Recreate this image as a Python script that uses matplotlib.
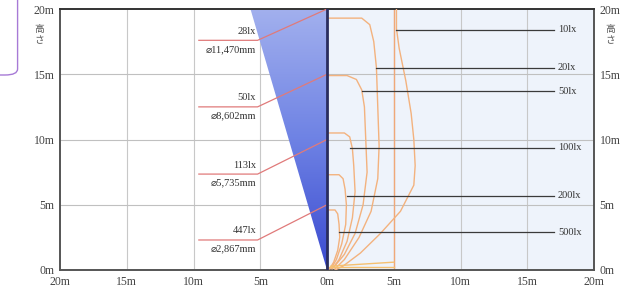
import numpy as np
import matplotlib
matplotlib.use("Agg")
import matplotlib.pyplot as plt
from matplotlib.patches import Polygon, FancyBboxPatch, Rectangle
from matplotlib.colors import LinearSegmentedColormap

# ---- data ----
heights = [5, 10, 15, 20]
center_lux = ["447lx", "113lx", "50lx", "28lx"]
beam_diam = ["⌀2,867mm", "⌀5,735mm", "⌀8,602mm", "⌀11,470mm"]
label_y = [2.3, 7.35, 12.5, 17.6]          # underline heights of left labels
beam_half_width_top = 5.735                 # half of 11,470mm at 20m

x_ticks = [-20, -15, -10, -5, 0, 5, 10, 15, 20]
x_tick_labels = ["20m", "15m", "10m", "5m", "0m", "5m", "10m", "15m", "20m"]
y_ticks = [0, 5, 10, 15, 20]
y_tick_labels = ["0m", "5m", "10m", "15m", "20m"]

iso_labels = ["10lx", "20lx", "50lx", "100lx", "200lx", "500lx"]
iso_label_y = [18.4, 15.5, 13.7, 9.35, 5.7, 2.9]
iso_label_x0 = [5.2, 3.7, 2.6, 1.7, 1.5, 0.9]

curve_10_x = [5.2, 5.2, 5.4, 5.9, 6.3, 6.5, 6.6, 6.5, 5.5, 4.0, 2.5, 1.2, 0.6]
curve_10_y = [20, 18.5, 17, 14.5, 12, 10, 8, 6.5, 4.5, 2.8, 1.3, 0.3, 0.0]
curve_20_x = [0, 2.6, 3.2, 3.5, 3.7, 3.8, 3.9, 3.8, 3.3, 2.4, 1.3, 0.6]
curve_20_y = [19.3, 19.3, 18.8, 17.5, 15.5, 12.5, 9.5, 7.0, 4.5, 2.5, 0.8, 0.1]
curve_50_x = [0, 1.5, 2.2, 2.6, 2.8, 2.9, 3.0, 2.7, 2.1, 1.3, 0.5]
curve_50_y = [14.9, 14.9, 14.6, 13.8, 12.5, 10, 7.5, 5.0, 2.8, 1.2, 0.2]
curve_100_x = [0, 1.3, 1.7, 1.9, 2.0, 2.1, 1.9, 1.5, 0.9, 0.4]
curve_100_y = [10.5, 10.5, 10.2, 9.3, 8.0, 6.0, 4.0, 2.2, 0.8, 0.1]
curve_200_x = [0, 0.9, 1.2, 1.35, 1.45, 1.4, 1.1, 0.7, 0.3]
curve_200_y = [7.3, 7.3, 7.0, 6.2, 5.0, 3.5, 2.0, 0.8, 0.1]
curve_500_x = [0, 0.6, 0.8, 0.9, 0.95, 0.8, 0.5, 0.2, 0]
curve_500_y = [4.6, 4.6, 4.3, 3.5, 2.5, 1.5, 0.6, 0.1, 0]
curves = [(curve_10_x, curve_10_y), (curve_20_x, curve_20_y), (curve_50_x, curve_50_y),
          (curve_100_x, curve_100_y), (curve_200_x, curve_200_y), (curve_500_x, curve_500_y)]

serif = ["Liberation Serif", "DejaVu Sans"]

fig = plt.figure(figsize=(6.28, 3.0), dpi=100)
ax = fig.add_axes([0.0955, 0.10, 0.8505, 0.87])
ax.set_xlim(-20, 20)
ax.set_ylim(0, 20)

# right panel background
ax.add_patch(Rectangle((0, 0), 20, 20, facecolor="#eef3fb", edgecolor="none", zorder=0))

# grid
for gx in [-15, -10, -5, 5, 10, 15]:
    ax.axvline(gx, color="#c8c8c8", lw=0.8, zorder=1)
for gy in [5, 10, 15]:
    ax.axhline(gy, color="#c0c0c0", lw=0.8, zorder=1)
ax.axvline(5, color="#f0a878", lw=1.0, zorder=2)

# beam wedge with gradient
wedge = Polygon([(0, 0), (-beam_half_width_top, 20), (0, 20)], closed=True,
                facecolor="none", edgecolor="none")
ax.add_patch(wedge)
grad = np.linspace(0, 1, 256).reshape(-1, 1)
cmap = LinearSegmentedColormap.from_list("bw", ["#3a4ad0", "#6e82e4", "#a2b0ee"])
im = ax.imshow(grad, extent=[-beam_half_width_top, 0, 0, 20], origin="lower",
               cmap=cmap, aspect="auto", zorder=2)
im.set_clip_path(wedge)

# centre line
ax.axvline(0, color="#2a2d5e", lw=2.0, zorder=4)

# left labels with red leader lines
for h, lux, dia, ly in zip(heights, center_lux, beam_diam, label_y):
    ax.plot([-9.6, -5.2, 0], [ly, ly, h], color="#e07a7a", lw=0.9, zorder=3)
    ax.text(-5.3, ly + 0.35, lux, ha="right", va="bottom", fontsize=7.5,
            family=serif, color="#333333", zorder=5)
    ax.text(-5.3, ly - 0.35, dia, ha="right", va="top", fontsize=7.5,
            family=serif, color="#333333", zorder=5)

# isolux curves
for cx, cy in curves:
    ax.plot(cx, cy, color="#f3b27e", lw=1.0, zorder=3)
ax.plot([0, 5], [0.2, 0.2], color="#f5c070", lw=1.0, zorder=3)
ax.plot([0.3, 5], [0.3, 0.6], color="#f5c070", lw=1.0, zorder=3)

# iso labels
for lab, ly, x0 in zip(iso_labels, iso_label_y, iso_label_x0):
    ax.plot([x0, 17.0], [ly, ly], color="#3a3a3a", lw=0.9, zorder=4)
    ax.text(17.3, ly, lab, ha="left", va="center", fontsize=7.5, family=serif,
            color="#333333", zorder=5)

# axes styling
ax.set_xticks(x_ticks)
ax.set_xticklabels(x_tick_labels, family=serif, fontsize=8.5, color="#444444")
ax.set_yticks(y_ticks)
ax.set_yticklabels(y_tick_labels, family=serif, fontsize=8.5, color="#444444")
ax.tick_params(length=0, pad=4)
for s in ax.spines.values():
    s.set_color("#555555")
    s.set_linewidth(1.4)
ax.spines["top"].set_color("#333333")

ax2 = ax.twinx()
ax2.set_ylim(0, 20)
ax2.set_yticks(y_ticks)
ax2.set_yticklabels(y_tick_labels, family=serif, fontsize=8.5, color="#444444")
ax2.tick_params(length=0, pad=4)
for s in ax2.spines.values():
    s.set_visible(False)

# vertical "高さ"
for xf in [0.062, 0.972]:
    fig.text(xf, 0.885, "高\nさ", ha="center", va="center", fontsize=7,
             family=["Noto Sans CJK JP", "DejaVu Sans"], color="#555555", linespacing=1.1)

# purple box fragment from page
fig.patches.append(FancyBboxPatch((-0.05, 0.75), 0.078, 0.35, boxstyle="round,pad=0,rounding_size=0.02",
                                  transform=fig.transFigure, facecolor="none",
                                  edgecolor="#a77ad6", lw=1.0))

fig.savefig("out.png", dpi=100)
